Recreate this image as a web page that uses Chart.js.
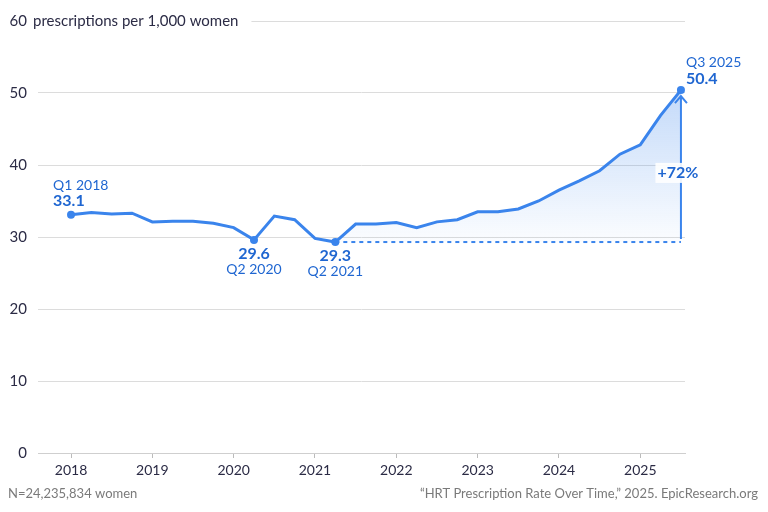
<!DOCTYPE html>
<html>
<head>
<meta charset="utf-8">
<script src="https://cdn.jsdelivr.net/npm/chart.js@4/dist/chart.umd.min.js"></script>
<style>
  html, body { margin: 0; padding: 0; background: #fff; }
  #wrap { width: 768px; height: 512px; position: relative; }
</style>
</head>
<body>
<div id="wrap"><canvas id="hrtChart"></canvas></div>
<script>
// quarterly rate, Q1 2018 .. Q3 2025
const quarters = [
    'Q1 2018','Q2 2018','Q3 2018','Q4 2018',
    'Q1 2019','Q2 2019','Q3 2019','Q4 2019',
    'Q1 2020','Q2 2020','Q3 2020','Q4 2020',
    'Q1 2021','Q2 2021','Q3 2021','Q4 2021',
    'Q1 2022','Q2 2022','Q3 2022','Q4 2022',
    'Q1 2023','Q2 2023','Q3 2023','Q4 2023',
    'Q1 2024','Q2 2024','Q3 2024','Q4 2024',
    'Q1 2025','Q2 2025','Q3 2025'
];
const rates = [
    33.1, 33.4, 33.2, 33.3,
    32.1, 32.2, 32.2, 31.9,
    31.3, 29.6, 32.9, 32.4,
    29.8, 29.3, 31.8, 31.8,
    32.0, 31.3, 32.1, 32.4,
    33.5, 33.5, 33.9, 35.0,
    36.5, 37.8, 39.2, 41.5,
    42.8, 46.9, 50.4
];
const yearTicks = [2018, 2019, 2020, 2021, 2022, 2023, 2024, 2025];
const yTicks = [0, 10, 20, 30, 40, 50, 60];
const highlighted = ['Q1 2018', 'Q2 2020', 'Q2 2021', 'Q3 2025'];
const baseQuarter = 'Q2 2021';
const axisTitle = 'prescriptions per 1,000 women';
const footLeft = 'N=24,235,834 women';
const footRight = '\u201cHRT Prescription Rate Over Time,\u201d 2025. EpicResearch.org';
const changeLabel = '+72%';

const BLUE = '#3a84ec';
const TEXT_BLUE = '#1f66d1';
const INK = '#2b2b45';
const GRID = '#dcdcdc';
const FONT = 'Lato, "Open Sans", sans-serif';

function quarterToX(q) {
    const parts = q.split(' ');
    return parseInt(parts[1]) + (parseInt(parts[0].slice(1)) - 1) / 4;
}

const linePoints = quarters.map((q, i) => ({ x: quarterToX(q), y: rates[i] }));
const baseIdx = quarters.indexOf(baseQuarter);
const baseValue = rates[baseIdx];
const lastIdx = rates.length - 1;
const fillPoints = linePoints.slice(baseIdx);
const basePoints = [
    { x: quarterToX(baseQuarter), y: baseValue },
    { x: quarterToX(quarters[lastIdx]), y: baseValue }
];

const annotationPlugin = {
    id: 'annotations',
    afterDraw(chart) {
        const ctx = chart.ctx;
        const xs = chart.scales.x;
        const ys = chart.scales.y;
        const area = chart.chartArea;
        ctx.save();

        // axis title on the top gridline
        const yTop = ys.getPixelForValue(60);
        ctx.font = '15px ' + FONT;
        ctx.fillStyle = INK;
        ctx.textBaseline = 'middle';
        ctx.textAlign = 'right';
        ctx.fillText('60', 27, yTop);
        ctx.textAlign = 'left';
        ctx.fillText(axisTitle, 33, yTop);
        const titleEnd = 33 + ctx.measureText(axisTitle).width + 13;
        ctx.strokeStyle = GRID;
        ctx.lineWidth = 1;
        ctx.beginPath();
        ctx.moveTo(titleEnd, yTop + 0.5);
        ctx.lineTo(area.right, yTop + 0.5);
        ctx.stroke();

        // change arrow
        const ax = xs.getPixelForValue(quarterToX(quarters[lastIdx]));
        const yBase = ys.getPixelForValue(baseValue);
        const yEnd = ys.getPixelForValue(rates[lastIdx]);
        ctx.strokeStyle = BLUE;
        ctx.lineWidth = 2;
        ctx.beginPath();
        ctx.moveTo(ax, yBase - 3);
        ctx.lineTo(ax, yEnd + 6);
        ctx.moveTo(ax - 6, yEnd + 13);
        ctx.lineTo(ax, yEnd + 6);
        ctx.lineTo(ax + 6, yEnd + 13);
        ctx.stroke();

        ctx.font = 'bold 16px ' + FONT;
        const lw = ctx.measureText(changeLabel).width;
        const ly = ys.getPixelForValue(38.9);
        ctx.fillStyle = 'rgba(255,255,255,0.9)';
        ctx.fillRect(ax - 3 - lw / 2 - 2, ly - 10, lw + 4, 20);
        ctx.fillStyle = TEXT_BLUE;
        ctx.textAlign = 'center';
        ctx.fillText(changeLabel, ax - 3, ly);

        // point labels
        highlighted.forEach(q => {
            const i = quarters.indexOf(q);
            const px = xs.getPixelForValue(quarterToX(q));
            const py = ys.getPixelForValue(rates[i]);
            ctx.fillStyle = TEXT_BLUE;
            ctx.textBaseline = 'alphabetic';
            if (q === 'Q1 2018') {
                ctx.textAlign = 'left';
                ctx.font = '14px ' + FONT;
                ctx.fillText(q, px - 18, py - 25);
                ctx.font = 'bold 16px ' + FONT;
                ctx.fillText(rates[i].toFixed(1), px - 18, py - 9);
            } else if (q === quarters[lastIdx]) {
                ctx.textAlign = 'left';
                ctx.font = '14px ' + FONT;
                ctx.fillText(q, px + 5, py - 23);
                ctx.font = 'bold 16px ' + FONT;
                ctx.fillText(rates[i].toFixed(1), px + 5, py - 6);
            } else {
                ctx.textAlign = 'center';
                ctx.font = 'bold 16px ' + FONT;
                ctx.fillText(rates[i].toFixed(1), px, py + 19);
                ctx.font = '14px ' + FONT;
                ctx.fillText(q, px, py + 34);
            }
        });

        // footer
        ctx.font = '13px ' + FONT;
        ctx.fillStyle = '#7a7a7a';
        ctx.textBaseline = 'middle';
        ctx.textAlign = 'left';
        ctx.fillText(footLeft, 8, 494);
        ctx.textAlign = 'right';
        ctx.fillText(footRight, 758, 494);
        ctx.restore();
    }
};

const ctx = document.getElementById('hrtChart').getContext('2d');
new Chart(ctx, {
    type: 'line',
    data: {
        datasets: [
            {
                data: fillPoints,
                borderWidth: 0,
                pointRadius: 0,
                fill: { value: baseValue },
                backgroundColor: function(context) {
                    const c = context.chart;
                    if (!c.chartArea) return 'rgba(58,132,236,0.15)';
                    const g = c.ctx.createLinearGradient(0, c.scales.y.getPixelForValue(rates[lastIdx]), 0, c.scales.y.getPixelForValue(baseValue));
                    g.addColorStop(0, 'rgba(58,132,236,0.30)');
                    g.addColorStop(1, 'rgba(58,132,236,0.02)');
                    return g;
                },
                order: 3
            },
            {
                data: basePoints,
                borderColor: BLUE,
                borderWidth: 2,
                borderDash: [4, 4],
                pointRadius: 0,
                fill: false,
                order: 2
            },
            {
                data: linePoints,
                borderColor: BLUE,
                backgroundColor: BLUE,
                borderWidth: 3,
                tension: 0,
                fill: false,
                pointRadius: quarters.map(q => highlighted.includes(q) ? 4 : 0),
                pointBackgroundColor: BLUE,
                pointBorderWidth: 0,
                order: 1
            }
        ]
    },
    options: {
        responsive: true,
        maintainAspectRatio: false,
        animation: false,
        layout: { padding: { top: 21, right: 83, left: 0, bottom: 0 } },
        plugins: {
            legend: { display: false },
            tooltip: { enabled: false }
        },
        scales: {
            x: {
                type: 'linear',
                min: 2017.594,
                max: 2025.55,
                afterFit: s => { s.height = 59; },
                afterBuildTicks: s => { s.ticks = yearTicks.map(v => ({ value: v })); },
                grid: {
                    display: true,
                    drawOnChartArea: false,
                    drawTicks: true,
                    tickLength: 5,
                    color: '#bbbbbb'
                },
                border: { display: true, color: '#cfcfcf' },
                ticks: {
                    color: INK,
                    font: { family: FONT, size: 14 },
                    padding: 4,
                    maxRotation: 0,
                    callback: v => String(v)
                }
            },
            y: {
                min: 0,
                max: 60,
                afterFit: s => { s.width = 38; },
                afterBuildTicks: s => { s.ticks = yTicks.map(v => ({ value: v })); },
                grid: {
                    color: c => c.tick && c.tick.value === 60 ? 'rgba(0,0,0,0)' : GRID,
                    drawTicks: false
                },
                border: { display: false },
                ticks: {
                    color: INK,
                    font: { family: FONT, size: 15 },
                    padding: 11,
                    callback: v => v === 60 ? '' : String(v)
                }
            }
        }
    },
    plugins: [annotationPlugin]
});
</script>
</body>
</html>
